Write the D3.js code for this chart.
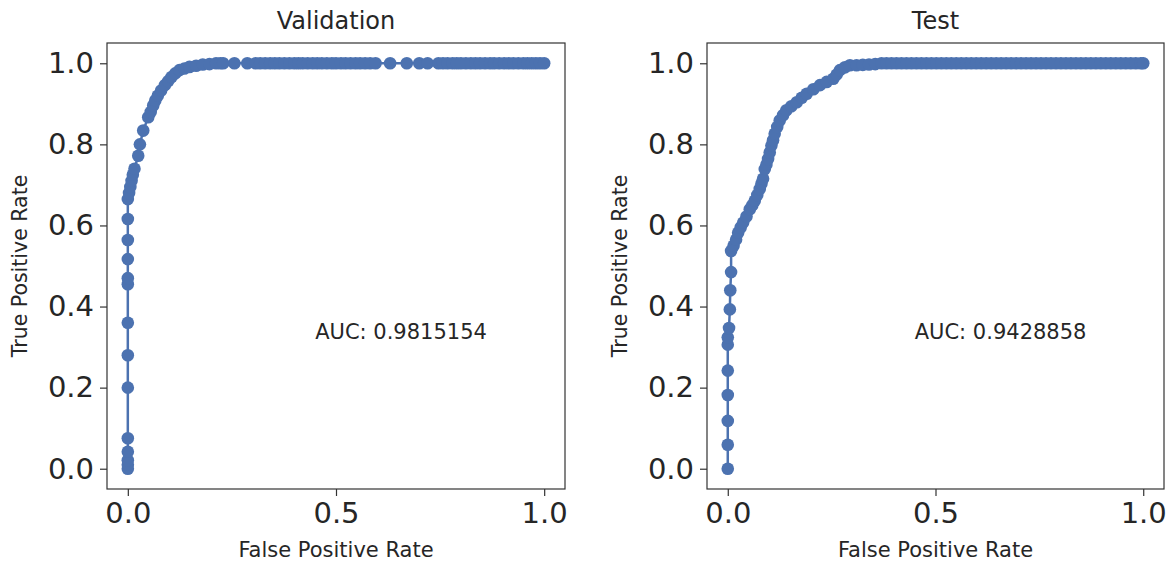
<!DOCTYPE html>
<html>
<head>
<meta charset="utf-8">
<script src="https://cdn.jsdelivr.net/npm/d3@7"></script>
<style>
  html, body { margin: 0; padding: 0; background: #fff; }
  svg { display: block; font-family: "DejaVu Sans", sans-serif; }
</style>
</head>
<body>
<svg id="chart" width="1170" height="565"></svg>
<script>
// ---- data ----
const panelTitles = ["Validation", "Test"];
const aucLabels = ["AUC: 0.9815154", "AUC: 0.9428858"];
const xTickValues = [0.0, 0.5, 1.0];
const yTickValues = [0.0, 0.2, 0.4, 0.6, 0.8, 1.0];

const valFpr = [0,0,0,0,0,0,0,0,0,0,0,0,0,0,
  0.003,0.006,0.009,0.012,0.016,0.025,0.029,0.037,0.049,0.055,0.061,0.066,0.072,0.08,0.089,0.097,0.105,0.114,0.124,0.136,0.148,0.164,0.18,0.196,0.212,
  0.222,0.229,0.256,0.287,
  0.307,0.318,0.33,0.342,0.353,0.364,0.376,0.388,0.4,0.41,0.42,0.432,0.444,0.455,0.466,0.478,0.49,0.5,0.512,0.523,0.535,0.547,0.558,0.57,0.582,0.595,
  0.63,0.67,0.70,0.72,
  0.746,0.757,0.768,0.78,0.79,0.80,0.812,0.824,0.835,0.846,0.858,0.87,0.88,0.892,0.904,0.915,0.926,0.938,0.95,0.96,0.97,0.98,0.99,1.0];
const valTpr = [0,0.01,0.021,0.042,0.075,0.2,0.28,0.36,0.455,0.47,0.517,0.564,0.616,0.665,
  0.68,0.695,0.71,0.725,0.74,0.772,0.80,0.834,0.867,0.88,0.896,0.908,0.92,0.933,0.946,0.956,0.966,0.975,0.983,0.987,0.991,0.994,0.997,0.998,1.0,
  1,1,1,1,
  1,1,1,1,1,1,1,1,1,1,1,1,1,1,1,1,1,1,1,1,1,1,1,1,1,1,
  1,1,1,1,
  1,1,1,1,1,1,1,1,1,1,1,1,1,1,1,1,1,1,1,1,1,1,1,1];

const testFpr = [0,0,0,0,0,0,0,0.003,0.005,0.006,0.008,0.008,
  0.014,0.02,0.025,0.031,0.037,0.045,0.053,0.059,0.065,0.071,0.077,0.081,0.085,0.089,0.093,0.097,0.101,0.105,0.109,0.113,0.119,0.125,0.133,0.141,0.153,0.166,0.178,0.19,0.206,0.222,0.238,0.254,0.262,0.27,0.282,0.294,0.31,0.325,0.34,0.355,0.37,
  0.382,0.394,0.406,0.418,0.43,0.442,0.454,0.466,0.478,0.49,0.502,0.514,0.526,0.538,0.55,0.562,0.574,0.586,0.598,0.61,0.622,0.634,0.646,0.658,0.67,0.682,0.694,0.706,0.718,0.73,0.742,0.754,0.766,0.778,0.79,0.802,0.814,0.826,0.838,0.85,0.862,0.874,0.886,0.898,0.91,0.922,0.934,0.946,0.958,0.97,0.982,0.994,1.0];
const testTpr = [0,0.059,0.118,0.182,0.242,0.306,0.324,0.347,0.393,0.44,0.485,0.537,
  0.55,0.565,0.582,0.595,0.607,0.622,0.64,0.65,0.661,0.675,0.69,0.703,0.715,0.739,0.75,0.764,0.78,0.797,0.81,0.826,0.843,0.859,0.872,0.884,0.894,0.904,0.915,0.925,0.936,0.946,0.954,0.962,0.972,0.983,0.99,0.995,0.995,0.996,0.997,0.998,1.0,
  1,1,1,1,1,1,1,1,1,1,1,1,1,1,1,1,1,1,1,1,1,1,1,1,1,1,1,1,1,1,1,1,1,1,1,1,1,1,1,1,1,1,1,1,1,1,1,1,1,1,1,1,1,1];

const panels = [
  { title: panelTitles[0], auc: aucLabels[0], fpr: valFpr, tpr: valTpr, left: 107, right: 565 },
  { title: panelTitles[1], auc: aucLabels[1], fpr: testFpr, tpr: testTpr, left: 707, right: 1164 }
];

const plotTop = 43, plotBottom = 489;
const color = "#4c72b0";
const textColor = "#262626";
const svg = d3.select("#chart");

panels.forEach(p => {
  const x = d3.scaleLinear().domain([-0.05, 1.05]).range([p.left, p.right]);
  const y = d3.scaleLinear().domain([-0.05, 1.05]).range([plotBottom, plotTop]);
  const g = svg.append("g");
  const pts = p.fpr.map((f, i) => [f, p.tpr[i]]);

  g.append("path")
    .datum(pts)
    .attr("fill", "none")
    .attr("stroke", color)
    .attr("stroke-width", 2.5)
    .attr("d", d3.line().x(d => x(d[0])).y(d => y(d[1])));

  g.selectAll("circle.pt").data(pts).join("circle")
    .attr("class", "pt")
    .attr("cx", d => x(d[0]))
    .attr("cy", d => y(d[1]))
    .attr("r", 6.3)
    .attr("fill", color);

  g.append("rect")
    .attr("x", p.left).attr("y", plotTop)
    .attr("width", p.right - p.left).attr("height", plotBottom - plotTop)
    .attr("fill", "none").attr("stroke", "#333").attr("stroke-width", 1.2);

  const xAxis = d3.axisBottom(x).tickValues(xTickValues).tickFormat(d3.format(".1f")).tickSize(7).tickPadding(6);
  const yAxis = d3.axisLeft(y).tickValues(yTickValues).tickFormat(d3.format(".1f")).tickSize(7).tickPadding(6);
  const gx = g.append("g").attr("transform", `translate(0,${plotBottom})`).call(xAxis);
  const gy = g.append("g").attr("transform", `translate(${p.left},0)`).call(yAxis);
  [gx, gy].forEach(a => {
    a.select(".domain").remove();
    a.selectAll(".tick line").attr("stroke", "#333").attr("stroke-width", 1.2);
    a.selectAll(".tick text").attr("fill", textColor).style("font-size", "29px").style("font-family", "DejaVu Sans");
  });

  g.append("text")
    .attr("x", (p.left + p.right) / 2).attr("y", 29)
    .attr("text-anchor", "middle")
    .attr("fill", textColor)
    .style("font-size", "24px")
    .text(p.title);

  g.append("text")
    .attr("x", (p.left + p.right) / 2).attr("y", 557)
    .attr("text-anchor", "middle")
    .attr("fill", textColor)
    .style("font-size", "21px")
    .text("False Positive Rate");

  g.append("text")
    .attr("transform", `translate(${p.left - 80},${(plotTop + plotBottom) / 2}) rotate(-90)`)
    .attr("text-anchor", "middle")
    .attr("fill", textColor)
    .style("font-size", "20.5px")
    .text("True Positive Rate");

  g.append("text")
    .attr("x", x(0.45)).attr("y", y(0.32))
    .attr("fill", textColor)
    .style("font-size", "21px")
    .text(p.auc);
});
</script>
</body>
</html>
